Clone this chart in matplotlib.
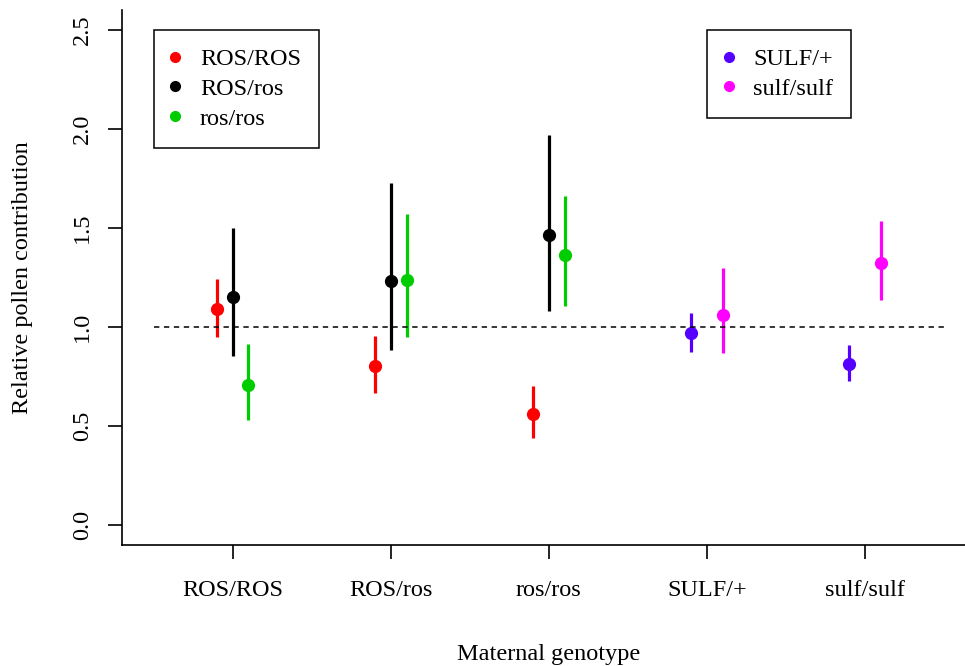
import numpy as np
import matplotlib
matplotlib.use('Agg')
import matplotlib.pyplot as plt
from matplotlib.lines import Line2D

plt.rcParams['font.family'] = ['Liberation Serif', 'DejaVu Serif']

# ------------------------------ Data ------------------------------------------
maternal = ['ROS/ROS', 'ROS/ros', 'ros/ros', 'SULF/+', 'sulf/sulf']

# Rosea paternal genotypes on Rosea maternal groups (positions 1..3)
ros_labels = ['ROS/ROS', 'ROS/ros', 'ros/ros']
ros_colors = ['#FF0000', '#000000', '#00CD00']
ros_est = [[1.093, 1.150, 0.706],
           [0.805, 1.234, 1.237],
           [0.563, 1.464, 1.363]]
ros_lo = [[0.949, 0.852, 0.530],
          [0.667, 0.885, 0.949],
          [0.441, 1.081, 1.108]]
ros_hi = [[1.241, 1.502, 0.915],
          [0.957, 1.727, 1.569],
          [0.704, 1.967, 1.660]]

# Sulfurea paternal genotypes on Sulfurea maternal groups (positions 4..5)
sulf_labels = ['SULF/+', 'sulf/sulf']
sulf_colors = ['#5500FF', '#FF00FF']
sulf_est = [[0.972, 1.063],
            [0.815, 1.324]]
sulf_lo = [[0.874, 0.867],
           [0.729, 1.138]]
sulf_hi = [[1.073, 1.296],
           [0.907, 1.533]]

# ------------------------------ Figure ----------------------------------------
fig = plt.figure(figsize=(9.65, 6.66), dpi=100)
ax = fig.add_axes([122 / 965, 121 / 666, (975.6 - 122) / 965, (656 - 121) / 666])
ax.set_xlim(0.3, 5.7)
ax.set_ylim(-0.1, 2.6)

off = 0.1
lw = 2.3
ms = 8.5
fs = 17.5

for g in range(3):
    for k in range(3):
        x = g + 1 + (k - 1) * off
        ax.plot([x, x], [ros_lo[g][k], ros_hi[g][k]], color=ros_colors[k],
                linewidth=lw, solid_capstyle='butt')
        ax.plot(x, ros_est[g][k], 'o', color=ros_colors[k], markersize=ms)

for g in range(2):
    for k in range(2):
        x = g + 4 + (2 * k - 1) * off
        ax.plot([x, x], [sulf_lo[g][k], sulf_hi[g][k]], color=sulf_colors[k],
                linewidth=lw, solid_capstyle='butt')
        ax.plot(x, sulf_est[g][k], 'o', color=sulf_colors[k], markersize=ms)

ax.plot([0.5, 5.5], [1.0, 1.0], color='k', linestyle=(0, (3.5, 3)), linewidth=1.1)

# ------------------------------ Axes styling ----------------------------------
for s in ['top', 'right']:
    ax.spines[s].set_visible(False)
ax.spines['left'].set_linewidth(1.2)
ax.spines['bottom'].set_linewidth(1.2)

ax.set_xticks(range(1, 6))
ax.set_xticklabels(maternal, fontsize=fs)
ax.set_yticks([0, 0.5, 1.0, 1.5, 2.0, 2.5])
ax.set_yticklabels(['0.0', '0.5', '1.0', '1.5', '2.0', '2.5'], fontsize=fs,
                   rotation=90, va='center')
ax.tick_params(axis='both', direction='out', length=10, width=1.2)
ax.tick_params(axis='x', pad=15)
ax.tick_params(axis='y', pad=11)

ax.set_xlabel('Maternal genotype', fontsize=fs, labelpad=31)
ax.set_ylabel('Relative pollen contribution', fontsize=fs, labelpad=28)

# ------------------------------ Legends ---------------------------------------
def make_handles(labels, colors):
    return [Line2D([], [], marker='o', linestyle='none', color=c,
                   markersize=7, label=l) for l, c in zip(labels, colors)]

leg_kw = dict(frameon=True, fancybox=False, framealpha=1, edgecolor='k',
              fontsize=fs, handletextpad=0.85, borderpad=0.75,
              labelspacing=0.32, handlelength=0.3, loc='upper left',
              bbox_transform=ax.transData, borderaxespad=0)

leg1 = ax.legend(handles=make_handles(ros_labels, ros_colors),
                 bbox_to_anchor=(0.5, 2.5), **leg_kw)
leg1.get_frame().set_linewidth(1.1)
ax.add_artist(leg1)
leg2 = ax.legend(handles=make_handles(sulf_labels, sulf_colors),
                 bbox_to_anchor=(4.0, 2.5), **leg_kw)
leg2.get_frame().set_linewidth(1.1)

fig.savefig('out.png', dpi=100)
